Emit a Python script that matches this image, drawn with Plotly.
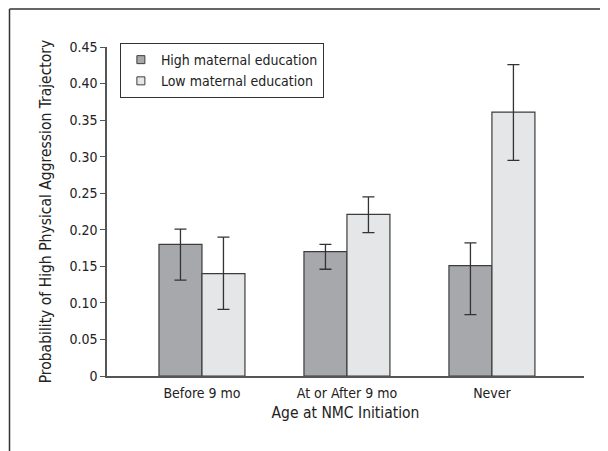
import plotly.graph_objects as go

categories = ["Before 9 mo", "At or After 9 mo", "Never"]
high_edu = [0.18, 0.17, 0.151]
high_upper = [0.201, 0.18, 0.182]
high_lower = [0.131, 0.146, 0.084]
low_edu = [0.14, 0.221, 0.361]
low_upper = [0.19, 0.245, 0.426]
low_lower = [0.091, 0.196, 0.295]
tick_vals = [0, 0.05, 0.10, 0.15, 0.20, 0.25, 0.30, 0.35, 0.40, 0.45]
tick_text = ["0", "0.05", "0.10", "0.15", "0.20", "0.25", "0.30", "0.35", "0.40", "0.45"]

FONT = "DejaVu Sans Condensed, Liberation Sans Narrow, sans-serif"
HIGH_C = "#a7a8ab"
LOW_C = "#e5e6e7"
EDGE = "#3c3c3c"

fig = go.Figure()
fig.add_trace(go.Bar(
    x=categories, y=high_edu, name="High maternal education",
    marker=dict(color=HIGH_C, line=dict(color=EDGE, width=1.2)),
    error_y=dict(type="data", symmetric=False,
                 array=[u - v for u, v in zip(high_upper, high_edu)],
                 arrayminus=[v - l for v, l in zip(high_edu, high_lower)],
                 color="#333333", thickness=1.3, width=6),
    showlegend=False,
))
fig.add_trace(go.Bar(
    x=categories, y=low_edu, name="Low maternal education",
    marker=dict(color=LOW_C, line=dict(color=EDGE, width=1.2)),
    error_y=dict(type="data", symmetric=False,
                 array=[u - v for u, v in zip(low_upper, low_edu)],
                 arrayminus=[v - l for v, l in zip(low_edu, low_lower)],
                 color="#333333", thickness=1.3, width=6),
    showlegend=False,
))
# legend entries
for nm, col in [("High maternal education", HIGH_C), ("Low maternal education", LOW_C)]:
    fig.add_trace(go.Scatter(
        x=[None], y=[None], mode="markers", name=nm,
        marker=dict(symbol="square", size=8, color=col, line=dict(color=EDGE, width=1)),
    ))

# outer frame (top and left lines)
fig.add_shape(type="line", xref="paper", yref="paper",
              x0=-0.2044, x1=1.2, y0=1.1155, y1=1.1155,
              line=dict(color="#333333", width=1.5))
fig.add_shape(type="line", xref="paper", yref="paper",
              x0=-0.2044, x1=-0.2044, y0=1.1155, y1=-0.3,
              line=dict(color="#333333", width=1.5))

fig.update_layout(
    width=608, height=451,
    margin=dict(l=99, r=32, t=39, b=83),
    paper_bgcolor="white", plot_bgcolor="white",
    font=dict(family=FONT, size=14, color="#222222"),
    barmode="group", bargap=0.407, bargroupgap=0,
    legend=dict(
        x=0.027, y=1.012, xanchor="left", yanchor="top",
        bordercolor="#333333", borderwidth=1, bgcolor="white",
        font=dict(family=FONT, size=14, color="#222222"),
        itemwidth=30, tracegroupgap=2,
    ),
    xaxis=dict(
        range=[-0.655, 2.635], showline=True, linecolor="#555555", linewidth=1.5,
        ticks="outside", ticklen=3, tickcolor="rgba(0,0,0,0)",
        showgrid=False, zeroline=False, automargin=False,
        tickfont=dict(family=FONT, size=14),
        title=dict(text="Age at NMC Initiation", font=dict(family=FONT, size=15.5), standoff=8),
    ),
    yaxis=dict(
        range=[0, 0.45], tickvals=tick_vals, ticktext=tick_text,
        showline=True, linecolor="#555555", linewidth=1.5,
        ticks="outside", ticklen=5, tickcolor="#555555", tickwidth=1.2,
        showgrid=False, zeroline=False, automargin=False,
        tickfont=dict(family=FONT, size=14),
        title=dict(text="Probability of High Physical Aggression Trajectory",
                   font=dict(family=FONT, size=15.5), standoff=14),
    ),
)

fig.write_html("out.html")
